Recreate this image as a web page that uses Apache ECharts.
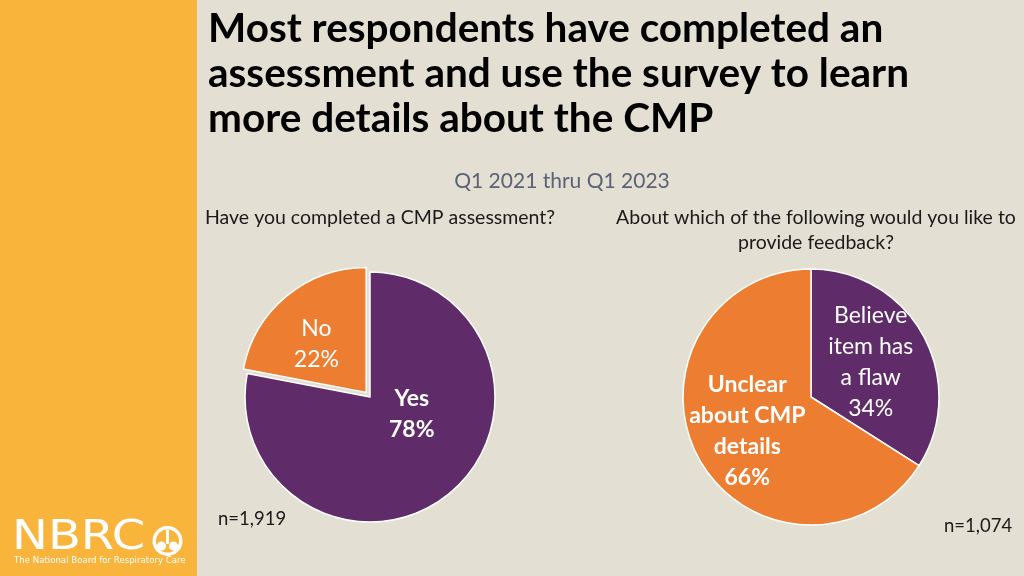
<!DOCTYPE html>
<html>
<head>
<meta charset="utf-8">
<script src="https://cdn.jsdelivr.net/npm/echarts@6/dist/echarts.min.js"></script>
<style>
html,body{margin:0;padding:0;background:#e4dfd3;}
#c{width:1024px;height:576px;}
</style>
</head>
<body>
<div id="c"></div>
<script>
// Data
const pie1Names = ['Yes', 'No'];
const pie1Values = [78, 22];
const pie2Names = ['Believe\nitem has\na flaw', 'Unclear\nabout CMP\ndetails'];
const pie2Values = [34, 66];
const pie1N = 'n=1,919';
const pie2N = 'n=1,074';

const PURPLE = '#5f2b68';
const ORANGE = '#ed7d31';
const FONT = 'Lato';

const chart = echarts.init(document.getElementById('c'));

function pieData(names, values, colors, bolds, selectedIdx) {
  return names.map((n, i) => ({
    name: n,
    value: values[i],
    selected: i === selectedIdx,
    itemStyle: { color: colors[i] },
    label: { fontWeight: bolds[i] ? 'bold' : 'normal' }
  }));
}

const labelShift = {
  '0-0': [0, -33], '0-1': [-8, 2],
  '1-0': [1, -3], '1-1': [-5, 2]
};

chart.setOption({
  backgroundColor: '#e4dfd3',
  animation: false,
  title: [
    {
      text: 'Most respondents have completed an\nassessment and use the survey to learn\nmore details about the CMP',
      left: 203, top: 1,
      textStyle: { fontFamily: FONT, fontSize: 40.5, fontWeight: 'bold', color: '#000000', lineHeight: 45 }
    },
    {
      text: 'Q1 2021 thru Q1 2023',
      left: 557, top: 166, textAlign: 'center',
      textStyle: { fontFamily: FONT, fontSize: 21, fontWeight: 'normal', color: '#5a6276' }
    },
    {
      text: 'Have you completed a CMP assessment?',
      left: 200, top: 203,
      textStyle: { fontFamily: FONT, fontSize: 19.5, fontWeight: 'normal', color: '#1a1a1a' }
    },
    {
      text: 'About which of the following would you like to\nprovide feedback?',
      left: 811, top: 200, textAlign: 'center',
      textStyle: { fontFamily: FONT, fontSize: 19.5, fontWeight: 'normal', color: '#1a1a1a', lineHeight: 25, align: 'center' }
    },
    {
      text: pie1N, left: 213, top: 505,
      textStyle: { fontFamily: FONT, fontSize: 18.5, fontWeight: 'normal', color: '#1a1a1a' }
    },
    {
      text: pie2N, left: 939, top: 512,
      textStyle: { fontFamily: FONT, fontSize: 18.5, fontWeight: 'normal', color: '#1a1a1a' }
    }
  ],
  graphic: [
    { type: 'rect', left: 0, top: 0, z: -1, shape: { width: 197, height: 576 }, style: { fill: '#f8b43b' } },
    { type: 'text', x: 12, y: 519, scaleX: 1.2, style: { text: 'NBRC', fill: '#ffffff', font: 'normal 40px "DejaVu Sans"' } },
    { type: 'circle', shape: { cx: 167.5, cy: 541, r: 15 }, style: { fill: '#ffffff' } },
    { type: 'circle', shape: { cx: 167.5, cy: 541, r: 11.5 }, style: { fill: '#f8b43b' } },
    { type: 'rect', shape: { x: 166, y: 530, width: 3, height: 14 }, style: { fill: '#ffffff' } },
    { type: 'circle', shape: { cx: 161.5, cy: 546, r: 4.5 }, style: { fill: '#ffffff' } },
    { type: 'circle', shape: { cx: 173.5, cy: 546, r: 4.5 }, style: { fill: '#ffffff' } },
    { type: 'text', x: 14, y: 556, style: { text: 'The National Board for Respiratory Care', fill: '#ffffff', font: '8.6px "DejaVu Sans"' } }
  ],
  series: [
    {
      type: 'pie',
      center: [370, 397],
      radius: [0, 125],
      startAngle: 90,
      clockwise: true,
      selectedMode: 'single',
      selectedOffset: 6,
      silent: true,
      itemStyle: { borderColor: '#ffffff', borderWidth: 1.5 },
      label: {
        position: 'inside', color: '#ffffff', fontFamily: FONT, fontSize: 23, lineHeight: 31,
        formatter: p => p.name + '\n' + p.value + '%'
      },
      labelLine: { show: false },
      labelLayout: p => ({ dx: labelShift['0-' + p.dataIndex][0], dy: labelShift['0-' + p.dataIndex][1] }),
      data: pieData(pie1Names, pie1Values, [PURPLE, ORANGE], [true, false], 1)
    },
    {
      type: 'pie',
      center: [811, 397],
      radius: [0, 128],
      startAngle: 90,
      clockwise: true,
      silent: true,
      itemStyle: { borderColor: '#ffffff', borderWidth: 1.5 },
      label: {
        position: 'inside', color: '#ffffff', fontFamily: FONT, fontSize: 23, lineHeight: 31, align: 'center',
        formatter: p => p.name + '\n' + p.value + '%'
      },
      labelLine: { show: false },
      labelLayout: p => ({ dx: labelShift['1-' + p.dataIndex][0], dy: labelShift['1-' + p.dataIndex][1] }),
      data: pieData(pie2Names, pie2Values, [PURPLE, ORANGE], [false, true], -1)
    }
  ]
});
</script>
</body>
</html>
